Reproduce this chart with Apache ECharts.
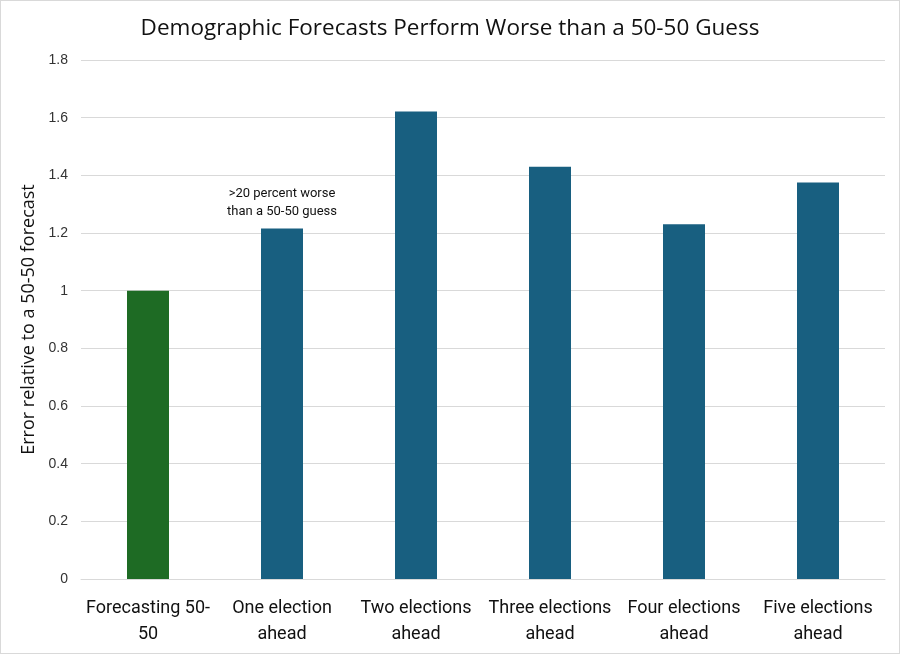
<!DOCTYPE html>
<html><head><meta charset="utf-8">
<script src="https://cdn.jsdelivr.net/npm/echarts@6/dist/echarts.min.js"></script>
<style>html,body{margin:0;padding:0;background:#fff}#c{width:898px;height:652px;border:1px solid #d9d9d9}</style>
</head><body><div id="c"></div>
<script>
const categories = ['Forecasting 50-\n50', 'One election\nahead', 'Two elections\nahead', 'Three elections\nahead', 'Four elections\nahead', 'Five elections\nahead'];
const values = [1.0, 1.216, 1.621, 1.43, 1.23, 1.375];
const barColors = ['#1e6b24', '#185f80', '#185f80', '#185f80', '#185f80', '#185f80'];
const annotation = '>20 percent worse\nthan a 50-50 guess';
const chart = echarts.init(document.getElementById('c'));
chart.setOption({
  animation: false,
  backgroundColor: '#fff',
  title: {text: 'Demographic Forecasts Perform Worse than a 50-50 Guess', left: 'center', top: 11,
    textStyle: {fontFamily: 'Open Sans', fontWeight: 'normal', fontSize: 22.5, color: '#111'}},
  grid: {left: 80, right: 14, top: 59, bottom: 74},
  xAxis: {type: 'category', data: categories,
    axisLine: {lineStyle: {color: '#d9d9d9'}}, axisTick: {show: false},
    axisLabel: {fontFamily: 'Roboto', fontSize: 18, color: '#111', lineHeight: 26, margin: 16, interval: 0}},
  yAxis: {type: 'value', min: 0, max: 1.8, interval: 0.2,
    name: 'Error relative to a 50-50 forecast', nameLocation: 'middle', nameGap: 42,
    nameTextStyle: {fontFamily: 'Open Sans', fontSize: 18, color: '#111'},
    splitLine: {lineStyle: {color: '#d9d9d9'}}, axisLine: {show: false}, axisTick: {show: false},
    axisLabel: {fontFamily: 'Liberation Sans, Arial', fontSize: 14, color: '#333', margin: 13}},
  series: [{type: 'bar', barWidth: 42,
    data: values.map((v, i) => {
      const d = {value: v, itemStyle: {color: barColors[i]}};
      if (i === 1) d.label = {show: true, position: 'top', distance: 8, formatter: annotation,
        fontFamily: 'Roboto', fontSize: 13, lineHeight: 18, color: '#111'};
      return d;
    })}]
});
</script></body></html>
